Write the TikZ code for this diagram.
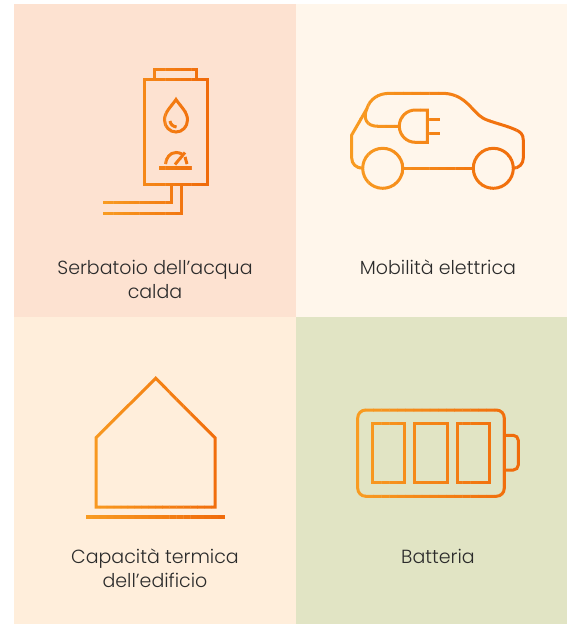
\documentclass[tikz,border=0pt]{standalone}
\usepackage{fontspec}
\setmainfont{Poppins Light}[BoldFont={Poppins}]
\definecolor{pTL}{HTML}{FDE2D1}
\definecolor{pTR}{HTML}{FFF6EB}
\definecolor{pBL}{HTML}{FFEEDB}
\definecolor{pBR}{HTML}{E1E4C4}
\definecolor{oL}{HTML}{F89B21}
\definecolor{oR}{HTML}{F0690A}
\definecolor{txt}{HTML}{2B2B2B}
\tikzset{
  panel/.style={fill=#1,draw=none},
  iconline/.style={line width=3pt,line join=miter,fill=none},
  label/.style={text=txt,font=\fontsize{19}{24}\selectfont,align=center,inner sep=0pt,anchor=base}
}
% draws icon #3 in abutting vertical colour strips from x=#1 to x=#2
\newcommand{\gradicon}[3]{%
  \foreach \k in {0,...,19}{%
    \pgfmathsetmacro{\xa}{\k==0 ? 0 : #1+(#2-#1)*\k/20}%
    \pgfmathsetmacro{\xb}{\k==19 ? 567 : #1+(#2-#1)*(\k+1)/20+0.3}%
    \pgfmathsetmacro{\mixv}{100-5*\k}%
    \begin{scope}
      \clip (\xa,0) rectangle (\xb,624);
      \colorlet{cur}{oL!\mixv!oR}
      \begin{scope}[iconline,draw=cur,color=cur]
        #3
      \end{scope}
    \end{scope}
  }%
}
\begin{document}
\begin{tikzpicture}[x=1pt,y=-1pt]
\useasboundingbox (0,0) rectangle (567,624);
\fill[white] (0,0) rectangle (567,624);
\path[panel=pTL] (14,4) rectangle (296,317);
\path[panel=pTR] (296,4) rectangle (567,317);
\path[panel=pBL] (14,317) rectangle (296,624);
\path[panel=pBR] (296,317) rectangle (567,624);

% water heater
\gradicon{103}{207}{
  \draw (144,79) rectangle (207,184);
  \draw (154,79) -- (154,69) -- (196,69) -- (196,79);
  \draw (171,184) -- (171,202) -- (103,202);
  \draw (181,184) -- (181,213) -- (103,213);
  \draw (176,99.5) .. controls (171,107) and (164.5,112) .. (164.5,120) .. controls (164.5,127) and (170,132) .. (176,132) .. controls (182,132) and (187.5,127) .. (187.5,120) .. controls (187.5,112) and (181,107) .. (176,99.5) -- cycle;
  \draw (170,121) .. controls (170.5,124.5) and (173,126.5) .. (176.5,127);
  \draw (165.5,164) .. controls (166,158) and (170,152.5) .. (176,152.5) .. controls (178,152.5) and (180,153) .. (182,154);
  \draw (175,164.5) -- (185,152.5);
  \draw (185,157) -- (187,164);
  \fill (159,166) rectangle (192,170);
}

% electric car
\gradicon{351}{525}{
  \draw (382.7,168.3) circle (20);
  \draw (493.3,168.3) circle (20);
  \draw (402.7,168.3) -- (473.3,168.3);
  \draw (362.7,168.3) .. controls (356,168) and (351.7,164) .. (351.7,158) -- (351.7,135) -- (366.7,109)
    .. controls (370,99) and (378,93.3) .. (390,93.3) -- (443.3,93.3)
    .. controls (466,94) and (472,112) .. (483.3,118.3) .. controls (490,122) and (505,125) .. (515,129.5)
    .. controls (520,131.5) and (523.3,134) .. (523.3,140) -- (523.3,158)
    .. controls (523.3,164) and (519,168) .. (513.3,168.3);
  \draw (366.7,109) .. controls (363,118) and (366,126.3) .. (378,126.3) -- (399.3,126.3);
  \draw (427.3,110) -- (415.3,110) .. controls (406.5,110) and (399.3,117.2) .. (399.3,126.15) .. controls (399.3,135.1) and (406.5,142.3) .. (415.3,142.3) -- (427.3,142.3) -- cycle;
  \draw (427.3,119) -- (440,119);
  \draw (427.3,133.3) -- (440,133.3);
}

% house
\gradicon{86}{225}{
  \draw (155.7,378.3) -- (215,437.7) -- (215,507) -- (96,507) -- (96,437.7) -- cycle;
  \fill (86,515) rectangle (225,519);
}

% battery
\gradicon{357}{519}{
  \draw[rounded corners=8pt] (357.7,410) rectangle (504.3,496.3);
  \draw[rounded corners=5pt] (504.3,435.3) -- (518.3,435.3) -- (518.3,470) -- (504.3,470);
  \draw (372.3,423.3) rectangle (404.3,482.7);
  \draw (414.7,423.3) rectangle (447,482.7);
  \draw (457,423.3) rectangle (489.3,482.7);
}

\node[label] (t1a) at (155,274) {Serbatoio dell’acqua};
\node[label] (t1b) at (155,298) {calda};
\node[label] (t2) at (438,274) {Mobilità elettrica};
\node[label] (t3a) at (155,563) {Capacità termica};
\node[label] (t3b) at (155,587) {dell’edificio};
\node[label] (t4) at (438,563) {Batteria};
\end{tikzpicture}
\end{document}
